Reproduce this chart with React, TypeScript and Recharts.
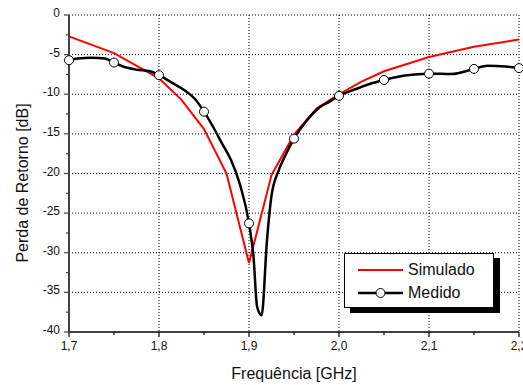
import React from "react";
import { LineChart, Line, XAxis, YAxis, CartesianGrid } from "recharts";

// Simulado (red, straight segments)
const simFreq = [1.7, 1.75, 1.8, 1.825, 1.85, 1.875, 1.9, 1.925, 1.95, 1.975, 2.0, 2.025, 2.05, 2.1, 2.15, 2.2];
const simVals = [-2.7, -4.8, -8.0, -10.7, -14.4, -20.0, -31.3, -20.2, -15.1, -11.8, -10.0, -8.4, -7.1, -5.3, -4.0, -3.1];

// Medido (black, smooth, markers every 0.05 GHz)
const medFreq = [
  1.7, 1.71, 1.725, 1.74, 1.75, 1.76, 1.775, 1.79, 1.8, 1.815, 1.827, 1.84, 1.85, 1.86, 1.87, 1.88, 1.89, 1.9,
  1.905, 1.909, 1.914, 1.92, 1.925, 1.933, 1.94, 1.95, 1.965, 1.979, 1.99, 2.0, 2.015, 2.034, 2.05, 2.075, 2.1,
  2.125, 2.15, 2.165, 2.185, 2.2,
];
const medVals = [
  -5.7, -5.5, -5.4, -5.5, -6.0, -6.5, -6.9, -7.1, -7.6, -8.6, -9.4, -10.6, -12.2, -14.1, -16.2, -18.3, -21.4, -26.3,
  -30.5, -36.8, -37.9, -28.4, -22.8, -19.6, -17.8, -15.6, -13.2, -11.6, -10.9, -10.2, -9.5, -8.7, -8.2, -7.6, -7.4,
  -7.45, -6.8, -6.4, -6.5, -6.7,
];

const xTicks = [1.7, 1.75, 1.8, 1.85, 1.9, 1.95, 2.0, 2.05, 2.1, 2.15, 2.2];
const yTicks = [-40, -37.5, -35, -32.5, -30, -27.5, -25, -22.5, -20, -17.5, -15, -12.5, -10, -7.5, -5, -2.5, 0];
const xGrid = [1.8, 1.9, 2.0, 2.1, 2.2];
const yGrid = [-35, -30, -25, -20, -15, -10, -5, 0];

const simData = simFreq.map((f, i) => ({ f, v: simVals[i] }));
const medData = medFreq.map((f, i) => ({ f, v: medVals[i] }));

const FONT = "Arial, 'Liberation Sans', Helvetica, sans-serif";

const isMajorX = (v: number) => Math.abs(v * 10 - Math.round(v * 10)) < 1e-6;
const isMajorY = (v: number) => Math.abs(v / 5 - Math.round(v / 5)) < 1e-6;
const isMarker = (v: number) => Math.abs(v * 20 - Math.round(v * 20)) < 1e-6;

const XTick = (props: any) => {
  const { x, y, payload } = props;
  const major = isMajorX(payload.value);
  return (
    <g>
      <line x1={x} x2={x} y1={y} y2={y + (major ? 5 : 3)} stroke="#000" strokeWidth={1.2} />
      {major && (
        <text x={x} y={y + 18} textAnchor="middle" fontSize={12} fontFamily={FONT} fill="#111">
          {payload.value.toFixed(1).replace(".", ",")}
        </text>
      )}
    </g>
  );
};

const YTick = (props: any) => {
  const { x, y, payload } = props;
  const major = isMajorY(payload.value);
  return (
    <g>
      <line x1={x} x2={x - (major ? 5 : 3)} y1={y} y2={y} stroke="#444" strokeWidth={1.2} />
      {major && (
        <text x={x - 9} y={y + 2} textAnchor="end" fontSize={12} fontFamily={FONT} fill="#111">
          {String(payload.value)}
        </text>
      )}
    </g>
  );
};

const MedDot = (props: any) => {
  const { cx, cy, payload, index } = props;
  if (!isMarker(payload.f)) return <g key={"d" + index} />;
  return <circle key={"d" + index} cx={cx} cy={cy} r={4.5} fill="#fff" stroke="#000" strokeWidth={1} />;
};

const YTitle = () => (
  <text
    x={22}
    y={183}
    transform="rotate(-90 22 183)"
    textAnchor="middle"
    dominantBaseline="central"
    fontSize={16}
    fontFamily={FONT}
    fill="#111"
  >
    Perda de Retorno [dB]
  </text>
);

const XTitle = () => (
  <text x={294} y={379} textAnchor="middle" fontSize={16} fontFamily={FONT} fill="#111">
    Frequência [GHz]
  </text>
);

function LegendBox() {
  const row = (label: string, color: string, marker: boolean) => (
    <div style={{ display: "flex", alignItems: "center", height: 23 }}>
      <svg width={50} height={12} style={{ marginLeft: 13 }}>
        <line x1={0} x2={45} y1={6} y2={6} stroke={color} strokeWidth={marker ? 2.5 : 2} />
        {marker && <circle cx={22.5} cy={6} r={4.5} fill="#fff" stroke="#000" strokeWidth={1} />}
      </svg>
      <span style={{ fontSize: 16, fontFamily: FONT, color: "#111" }}>{label}</span>
    </div>
  );
  return (
    <div
      style={{
        position: "absolute",
        left: 344,
        top: 253,
        width: 150,
        height: 55,
        boxSizing: "border-box",
        border: "1px solid #000",
        background: "#fff",
        boxShadow: "6px 5px 0 #000",
        paddingTop: 4,
      }}
    >
      {row("Simulado", "#ff0000", false)}
      {row("Medido", "#000", true)}
    </div>
  );
}

export default function App() {
  return (
    <div style={{ position: "absolute", left: 0, top: 0, width: 523, height: 385, background: "#fff" }}>
      <LineChart width={523} height={385} margin={{ top: 15, right: 4, left: 0, bottom: 0 }}>
        <CartesianGrid
          stroke="#000"
          strokeDasharray="1 2"
          strokeWidth={1}
          horizontalValues={yGrid}
          verticalValues={xGrid}
        />
        <XAxis
          dataKey="f"
          type="number"
          domain={[1.7, 2.2]}
          ticks={xTicks}
          allowDuplicatedCategory={false}
          height={53}
          tickSize={0}
          tickMargin={0}
          tick={<XTick />}
          axisLine={{ stroke: "#000", strokeWidth: 1.5 }}
          interval={0}
          label={{ content: XTitle }}
        />
        <YAxis
          type="number"
          domain={[-40, 0]}
          ticks={yTicks}
          width={69}
          tickSize={0}
          tickMargin={0}
          tick={<YTick />}
          axisLine={{ stroke: "#444", strokeWidth: 2 }}
          interval={0}
          label={{ content: YTitle }}
        />
        <Line
          data={simData}
          dataKey="v"
          type="linear"
          stroke="#ff0000"
          strokeWidth={2}
          dot={false}
          isAnimationActive={false}
        />
        <Line
          data={medData}
          dataKey="v"
          type="monotone"
          stroke="#000"
          strokeWidth={2.5}
          dot={MedDot}
          isAnimationActive={false}
        />
      </LineChart>
      <LegendBox />
    </div>
  );
}
